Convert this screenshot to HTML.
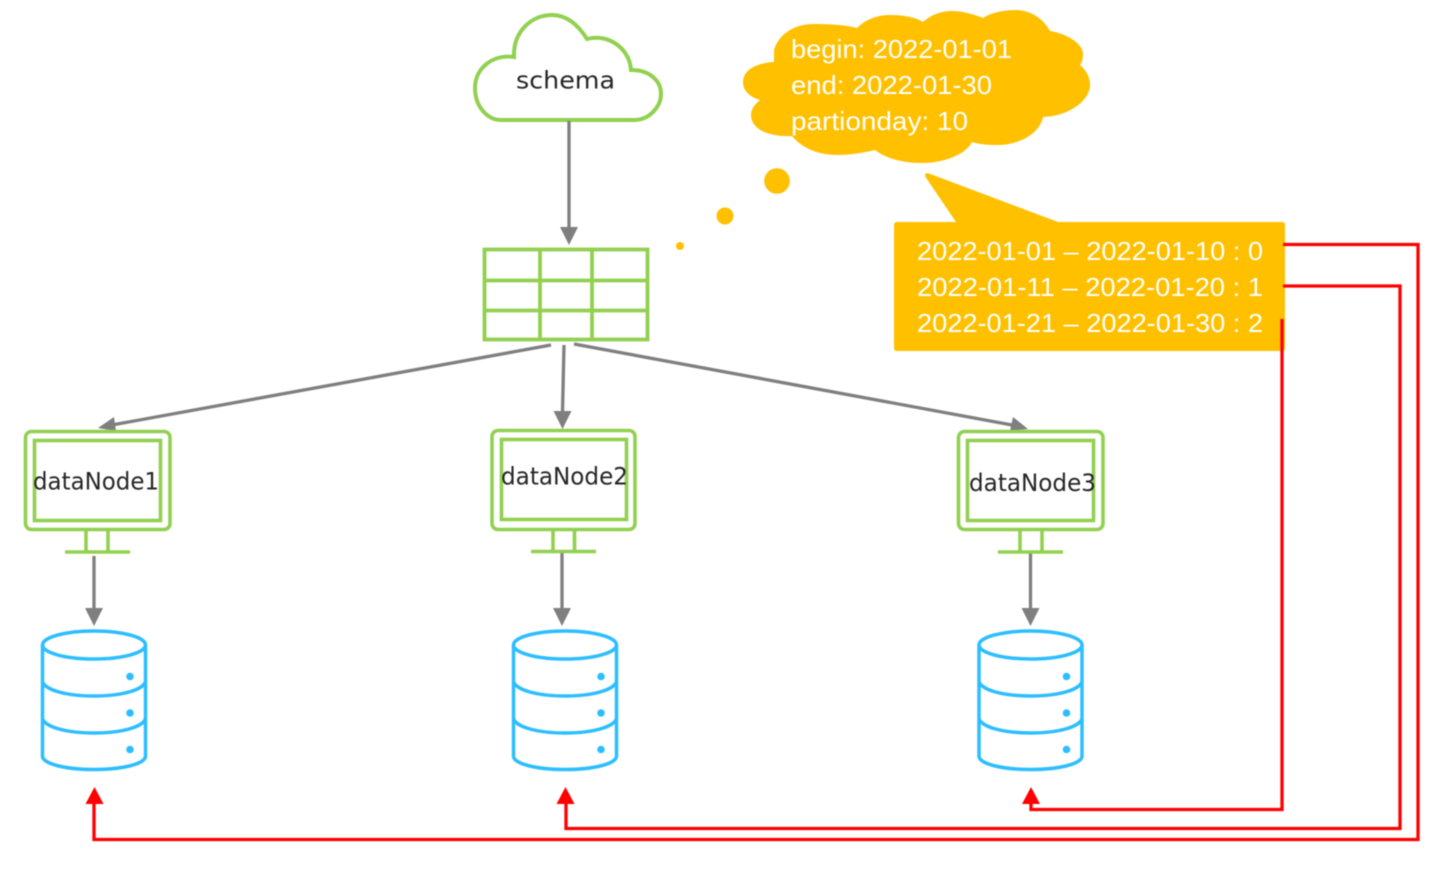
<!DOCTYPE html>
<html>
<head>
<meta charset="utf-8">
<title>Diagram</title>
<style>
html,body{margin:0;padding:0;background:#fff;width:1449px;height:879px;overflow:hidden}
svg{display:block;filter:blur(0.6px)}
.w{font-family:"Liberation Sans",sans-serif;font-size:26px;fill:#fff}
.d{font-family:"DejaVu Sans","Liberation Sans",sans-serif;font-size:24px;fill:#262626}
</style>
</head>
<body>
<svg width="1449" height="879" viewBox="0 0 1449 879" xmlns="http://www.w3.org/2000/svg">
<defs>
<g id="db" fill="none" stroke="#2DBEFF" stroke-width="3.500">
  <ellipse cx="0" cy="645" rx="51.5" ry="14"/>
  <path d="M-51.5 645V756C-51.5 764 -28 769.500 0 769.500C28 769.500 51.500 764 51.500 756V645"/>
  <path d="M-51.500 682C-48 690 -28 696 0 696C28 696 48 690 51.500 682"/>
  <path d="M-51.500 719C-48 727 -28 733 0 733C28 733 48 727 51.500 719"/>
  <circle cx="36" cy="676.500" r="3.800" fill="#2DBEFF" stroke="none"/>
  <circle cx="36" cy="713" r="3.800" fill="#2DBEFF" stroke="none"/>
  <circle cx="36" cy="749.500" r="3.800" fill="#2DBEFF" stroke="none"/>
</g>
</defs>

<!-- schema cloud -->
<path d="M501 120H634C650 120 661 106 661 94C661 81 650 70 631 70C630 50 610 33 587 39C577 23 565 15 552 15C531 15 513 32 514 57C493 54 475 68 475 88C475 106 487 120 501 120Z" fill="#fff" stroke="#92D050" stroke-width="4"/>
<text class="d" x="516" y="88.500" textLength="99" lengthAdjust="spacingAndGlyphs">schema</text>

<!-- orange thought cloud -->
<path fill="#FFC000" d="M774 50C779 33 796 24 813 24C830 24 846 25 857 28C866 19 878 15 890 15C903 15 915 17 923 22C932 14 942 11 952 11C962 11 973 14 983 18C992 12 1005 10 1017 10C1033 11 1044 20 1050 31C1068 34 1083 44 1083 54C1083 59 1082 62 1080 65C1087 71 1090 78 1090 85C1090 100 1070 116 1043 117C1040 133 1020 145 997 145C987 145 978 144 972 142C966 154 945 163 922 163C902 163 885 158 875 150C862 153 850 155 837 155C818 155 802 148 792 136C770 137 751 130 751 115C751 109 755 104 760 100C750 97 743 91 743 82C743 70 756 63 774 62Z"/>
<circle cx="777" cy="181" r="12.800" fill="#FFC000"/>
<circle cx="725" cy="216" r="8.500" fill="#FFC000"/>
<circle cx="680" cy="246" r="4" fill="#FFC000"/>
<text class="w" x="791" y="58" textLength="221" lengthAdjust="spacingAndGlyphs">begin: 2022-01-01</text>
<text class="w" x="791" y="94" textLength="201" lengthAdjust="spacingAndGlyphs">end: 2022-01-30</text>
<text class="w" x="791" y="130" textLength="177" lengthAdjust="spacingAndGlyphs">partionday: 10</text>

<!-- callout -->
<path fill="#FFC000" d="M897 222H956L925.500 177Q924 172 929 173.500L1058 222H1282Q1285 222 1285 225V348Q1285 351 1282 351H897Q894 351 894 348V225Q894 222 897 222Z"/>
<text class="w" x="917" y="260" textLength="346" lengthAdjust="spacingAndGlyphs">2022-01-01 – 2022-01-10 : 0</text>
<text class="w" x="917" y="296" textLength="346" lengthAdjust="spacingAndGlyphs">2022-01-11 – 2022-01-20 : 1</text>
<text class="w" x="917" y="332" textLength="346" lengthAdjust="spacingAndGlyphs">2022-01-21 – 2022-01-30 : 2</text>

<!-- table -->
<g fill="none" stroke="#92D050" stroke-width="3.800">
  <rect x="484.500" y="249.500" width="163" height="90"/>
  <path d="M484 280.500H648M484 310.500H648M540 249V340M592 249V340"/>
</g>

<!-- gray connectors -->
<g stroke="#7F7F7F" stroke-width="3.300" fill="none">
  <path d="M569 121V230"/>
  <path d="M551 345L112 425"/>
  <path d="M564 345L562.500 412"/>
  <path d="M574 344L1012 425"/>
  <path d="M94 556V610"/>
  <path d="M562 553V610"/>
  <path d="M1030.500 553V610"/>
</g>
<g fill="#7F7F7F">
  <path d="M560 227H578L569 245Z"/>
  <path d="M98 428L114 417L116 431Z"/>
  <path d="M553.500 411H571.500L562.500 429Z"/>
  <path d="M1028 429L1010 431L1013 417Z"/>
  <path d="M85 608H103L94 626Z"/>
  <path d="M553 608H571L562 626Z"/>
  <path d="M1021.500 608H1039.500L1030.500 626Z"/>
</g>

<!-- monitors -->
<g fill="#fff" stroke="#92D050" stroke-width="3.600">
  <rect x="25.500" y="431.500" width="144.500" height="98" rx="6"/>
  <rect x="34.500" y="440.500" width="126" height="80"/>
  <path d="M86 530V552M108 530V552M65 552H130" fill="none"/>

  <rect x="492" y="430.500" width="143" height="99" rx="6"/>
  <rect x="501.500" y="439.500" width="125" height="80"/>
  <path d="M553 530V551M574.500 530V551M531 551.500H596" fill="none"/>

  <rect x="958.500" y="431.500" width="144.500" height="98" rx="6"/>
  <rect x="967.500" y="440.500" width="126" height="80"/>
  <path d="M1020 530V552M1042 530V552M998 552H1063" fill="none"/>
</g>
<text class="d" x="33" y="489.500" textLength="126" lengthAdjust="spacingAndGlyphs">dataNode1</text>
<text class="d" x="501" y="484.500" textLength="127" lengthAdjust="spacingAndGlyphs">dataNode2</text>
<text class="d" x="969" y="491" textLength="127" lengthAdjust="spacingAndGlyphs">dataNode3</text>

<!-- databases -->
<use href="#db" x="94"/>
<use href="#db" x="565"/>
<use href="#db" x="1030.500"/>

<!-- red connectors -->
<g fill="none" stroke="#FF0000" stroke-width="3.300" stroke-linejoin="miter">
  <path d="M1283 244.500H1418V839.500H94V800"/>
  <path d="M1283 286H1400V828.500H566V800"/>
  <path d="M1282 319V809.500H1031V800"/>
</g>
<g fill="#FF0000">
  <path d="M94.500 787L103.500 804H85.500Z"/>
  <path d="M565.500 787L574.500 804H556.500Z"/>
  <path d="M1031 787L1040 804H1022Z"/>
</g>
</svg>
</body>
</html>
